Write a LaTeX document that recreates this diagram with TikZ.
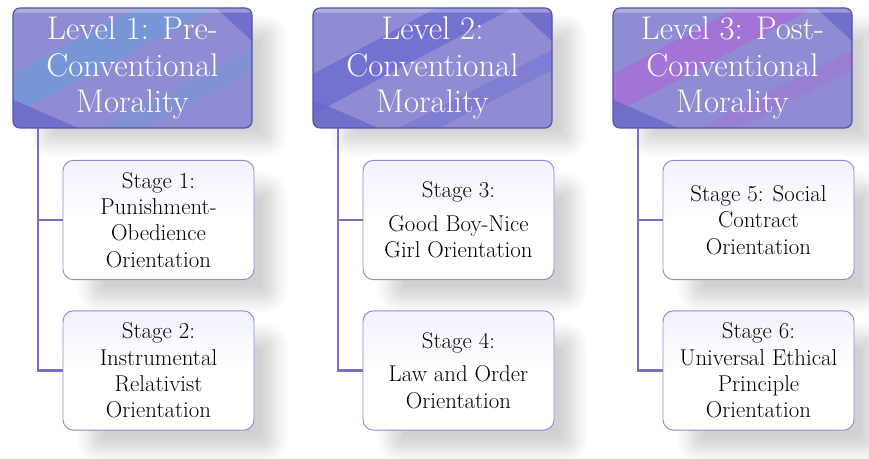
\documentclass[tikz,border=0pt]{standalone}
\usetikzlibrary{shadows.blur}
\definecolor{lvlbase}{HTML}{8E8CD2}
\definecolor{lvldark}{HTML}{6A68C8}
\definecolor{lvledge}{HTML}{5553A6}
\definecolor{stripeone}{HTML}{6E9ADB}
\definecolor{stripetwo}{HTML}{6A6AD2}
\definecolor{stripethree}{HTML}{A86CD8}
\definecolor{stageedge}{HTML}{8C8CD6}
\definecolor{spinecol}{HTML}{7B6CC8}
\tikzset{
  level/.style={rectangle, rounded corners=6pt, draw=lvledge, line width=1pt,
    fill=lvlbase, minimum width=7.17cm, minimum height=3.6cm, align=center,
    text=white, font=\fontsize{28}{31}\selectfont,
    blur shadow={shadow xshift=0.8cm, shadow yshift=-0.55cm, shadow scale=0.96,
      shadow blur radius=0.45cm, shadow blur steps=12, shadow opacity=18},
    path picture={
      \coordinate (pc) at (path picture bounding box.center);
      \fill[#1, opacity=.75] ([shift={(-3.8,-1.5)}]pc) -- ([shift={(2.6,1.9)}]pc)
        -- ([shift={(0.3,1.9)}]pc) -- ([shift={(-3.8,-0.3)}]pc) -- cycle;
      \fill[#1, opacity=.4] ([shift={(-1.2,-1.9)}]pc) -- ([shift={(3.7,0.6)}]pc)
        -- ([shift={(3.7,0)}]pc) -- ([shift={(0,-1.9)}]pc) -- cycle;
      \fill[lvldark, opacity=.8] ([shift={(2.4,1.9)}]pc) -- ([shift={(3.7,1.9)}]pc)
        -- ([shift={(3.7,0.7)}]pc) -- cycle;
      \fill[lvldark, opacity=.8] ([shift={(-3.7,-1.9)}]pc) -- ([shift={(-1.4,-1.9)}]pc)
        -- ([shift={(-3.7,-0.9)}]pc) -- cycle;
      \fill[white, opacity=.3] ([shift={(-3.7,1.8)}]pc) rectangle ([shift={(3.7,1.66)}]pc);
    }},
  stage/.style={rectangle, rounded corners=9pt, draw=stageedge, line width=0.8pt,
    top color=blue!5, bottom color=white, middle color=white,
    minimum width=5.73cm, minimum height=3.58cm, align=center,
    font=\fontsize{19.5}{22.5}\selectfont,
    blur shadow={shadow xshift=0.75cm, shadow yshift=-0.7cm, shadow scale=0.96,
      shadow blur radius=0.45cm, shadow blur steps=12, shadow opacity=18}},
  spine/.style={draw=spinecol, line width=2.5pt}
}
\newcommand{\levelbox}[4] {\node at (#1) (#2) [level=#3] {#4};}
\newcommand{\stagebox}[3] {\node at (#1) (#2) [stage] {#3};}
\newcommand{\stagelink}[2] {\draw [spine] (#1) |- (#2.west);}

\begin{document}
\begin{tikzpicture}
\useasboundingbox (0,0) rectangle (26.07,13.74);

% level 1
\levelbox {3.975,11.7}{lvl1}{stripeone}{Level 1: Pre-\\Conventional\\Morality}
\stagebox {4.755,7.14}{st1}{Stage 1:\\Punishment-\\Obedience\\Orientation}
\stagebox {4.755,2.625}{st2}{Stage 2:\\Instrumental\\Relativist\\Orientation}
\coordinate (spine1) at (1.14,9.9);
\stagelink {spine1}{st2}
\stagelink {spine1}{st1}

% level 2
\levelbox {12.975,11.7}{lvl2}{stripetwo}{Level 2:\\Conventional\\Morality}
\stagebox {13.755,7.14}{st3}{Stage 3:\\[6pt]Good Boy-Nice\\Girl Orientation}
\stagebox {13.755,2.625}{st4}{Stage 4:\\[6pt]Law and Order\\Orientation}
\coordinate (spine2) at (10.14,9.9);
\stagelink {spine2}{st4}
\stagelink {spine2}{st3}

% level 3
\levelbox {21.975,11.7}{lvl3}{stripethree}{Level 3: Post-\\Conventional\\Morality}
\stagebox {22.755,7.14}{st5}{Stage 5: Social\\Contract\\Orientation}
\stagebox {22.755,2.625}{st6}{Stage 6:\\Universal Ethical\\Principle\\Orientation}
\coordinate (spine3) at (19.14,9.9);
\stagelink {spine3}{st6}
\stagelink {spine3}{st5}

\end{tikzpicture}
\end{document}
